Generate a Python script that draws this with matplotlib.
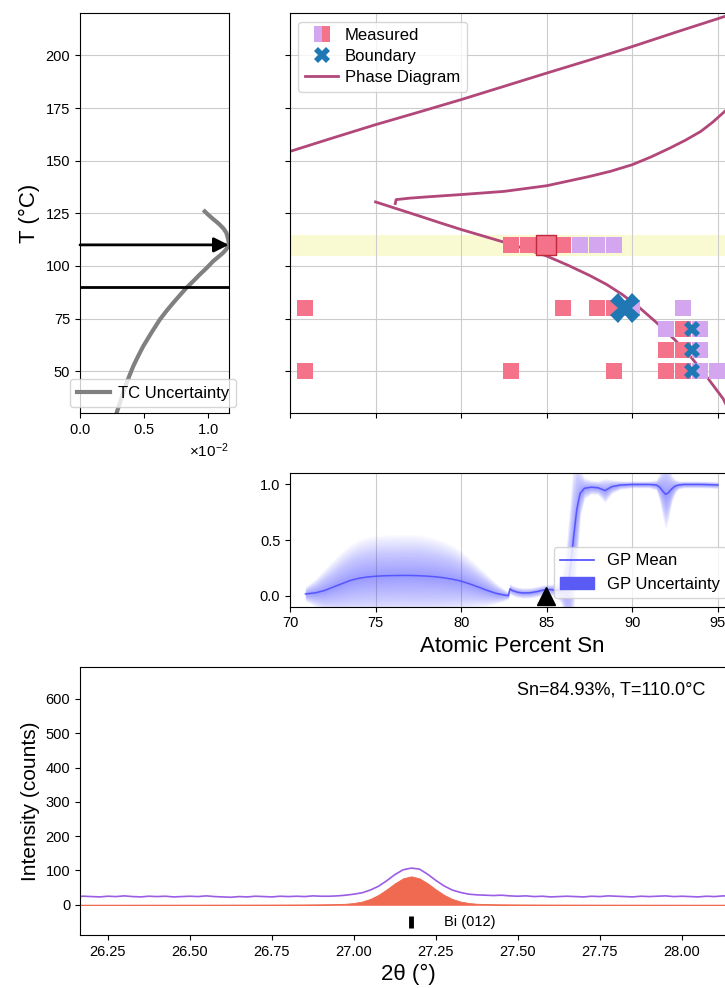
import numpy as np
import matplotlib
matplotlib.use('Agg')
import matplotlib.pyplot as plt
from matplotlib.lines import Line2D
from matplotlib.patches import Patch

plt.rcParams['font.family'] = ['Liberation Sans', 'DejaVu Sans']
plt.rcParams['mathtext.fontset'] = 'custom'
plt.rcParams['mathtext.rm'] = 'Liberation Sans'

# thermocouple uncertainty vs temperature
tc_unc = np.array([0.27, 0.286, 0.325, 0.364, 0.39, 0.416, 0.455, 0.494, 0.56, 0.623,
                   0.675, 0.727, 0.78, 0.831, 0.885, 0.935, 0.99, 1.039, 1.08, 1.117,
                   1.142, 1.156, 1.161, 1.158, 1.143, 1.12, 1.091, 1.065, 1.039, 1.005,
                   0.974]) * 1e-2
tc_temp = [27.0, 30.2, 37.5, 44.5, 48.5, 52.4, 57.3, 61.9, 68.5, 74.5,
           78.6, 82.4, 86.1, 89.6, 92.8, 95.9, 99.1, 102.2, 104.3, 106.2,
           107.9, 109.3, 111.0, 112.5, 115.7, 117.8, 119.6, 121.0, 122.3, 124.1,
           125.9]
t_selected = 110.0
t_lower = 90.0

# measured stripes (phase: 0 = two-phase, 1 = single phase)
meas_comp = [82.9, 83.9, 85.95, 86.95, 87.95, 88.95,
             70.9, 85.95, 87.95, 88.95, 90.0, 92.95,
             91.95, 92.95, 93.95,
             91.95, 92.95, 93.95,
             70.9, 82.9, 88.95, 91.95, 92.95, 93.95, 94.95]
meas_temp = [110, 110, 110, 110, 110, 110,
             80, 80, 80, 80, 80, 80,
             70, 70, 70,
             60, 60, 60,
             50, 50, 50, 50, 50, 50, 50]
meas_phase = [0, 0, 0, 1, 1, 1,
              0, 0, 0, 0, 1, 1,
              1, 0, 1,
              0, 0, 1,
              0, 0, 0, 0, 0, 1, 1]
sel_comp = 84.93

bnd_comp = [89.6, 93.5, 93.5, 93.5]
bnd_temp = [80, 70, 60, 50]

# phase diagram lines
liq_comp = [70.0, 72.5, 75.0, 77.5, 80.0, 82.5, 85.0, 87.5, 90.0, 92.5, 95.4, 96.0]
liq_temp = [154.4, 160.8, 167.1, 173.0, 179.0, 185.3, 191.6, 197.8, 204.2, 210.9, 218.5, 220.3]
sol_comp = [76.15, 76.2, 77.0, 78.0, 80.0, 82.5, 85.0, 87.5, 88.75, 90.0, 91.1,
            92.2, 93.1, 94.0, 94.7, 95.4, 96.0]
sol_temp = [129.6, 131.5, 132.2, 132.8, 133.9, 135.4, 138.1, 142.5, 145.0, 148.1, 151.8,
            156.0, 159.7, 163.9, 168.3, 173.4, 177.8]
bdy_comp = [75.0, 76.3, 77.6, 78.8, 80.0, 81.25, 82.5, 83.75, 85.0, 86.25,
            87.5, 88.5, 89.4, 90.4, 91.4, 92.5, 93.5, 94.4, 95.3, 95.8]
bdy_temp = [130.4, 127.0, 123.6, 120.4, 117.3, 114.3, 111.3, 108.1, 104.7, 100.3,
            95.5, 91.2, 86.5, 80.3, 73.2, 64.8, 56.0, 46.8, 37.0, 29.0]

# GP classifier along composition
gp_comp = [70.9, 71.5, 72.0, 72.5, 73.0, 73.5, 74.0, 74.5, 75.0, 75.5,
           76.0, 76.5, 77.0, 77.5, 78.0, 78.5, 79.0, 79.5, 80.0, 80.5,
           81.0, 81.5, 82.0, 82.4, 82.75, 82.85, 83.0, 83.3, 83.6, 84.0,
           84.4, 84.8, 85.2, 85.6, 85.9, 86.15, 86.35, 86.55, 86.75, 86.95,
           87.2, 87.6, 88.0, 88.4, 88.8, 89.3, 90.0, 90.5, 91.0, 91.4,
           91.6, 91.8, 91.95, 92.1, 92.3, 92.5, 92.7, 93.0, 93.5, 94.0,
           94.5, 95.0]
gp_mean = [0.015, 0.025, 0.045, 0.075, 0.105, 0.135, 0.155, 0.167, 0.174, 0.178,
           0.18, 0.181, 0.181, 0.179, 0.175, 0.169, 0.16, 0.147, 0.13, 0.105,
           0.077, 0.048, 0.022, 0.008, 0.0, 0.06, 0.045, 0.03, 0.024, 0.025,
           0.035, 0.05, 0.055, 0.048, 0.05, 0.08, 0.2, 0.5, 0.77, 0.92,
           0.965, 0.975, 0.97, 0.945, 0.98, 0.995, 1.0, 1.0, 1.0, 0.995,
           0.975, 0.935, 0.91, 0.925, 0.96, 0.985, 0.995, 1.0, 1.0, 1.0,
           0.998, 0.995]
gp_std = [0.02, 0.04, 0.06, 0.075, 0.09, 0.1, 0.108, 0.112, 0.115, 0.115,
          0.115, 0.115, 0.115, 0.115, 0.112, 0.108, 0.102, 0.095, 0.085, 0.072,
          0.058, 0.045, 0.03, 0.02, 0.01, 0.015, 0.015, 0.015, 0.015, 0.015,
          0.015, 0.015, 0.015, 0.02, 0.045, 0.12, 0.2, 0.22, 0.16, 0.07,
          0.03, 0.02, 0.02, 0.035, 0.02, 0.012, 0.01, 0.01, 0.01, 0.015,
          0.04, 0.08, 0.1, 0.08, 0.04, 0.02, 0.012, 0.01, 0.01, 0.01,
          0.01, 0.01]

# XRD pattern at the selected point
two_theta = 26.15 + 0.025 * np.arange(89)
xrd_meas = [24, 25, 24, 23, 25, 24, 26, 24, 23, 25, 24,
            25, 23, 24, 25, 24, 26, 24, 23, 22, 24,
            23, 25, 24, 23, 25, 24, 25, 24, 26, 25,
            25, 26, 28, 31, 35, 43, 54, 70, 88, 102,
            107,
            104, 89, 71, 55, 43, 36, 31, 29, 28, 27,
            28, 26, 25, 26, 24, 25, 23, 24, 25, 24,
            23, 25, 24, 26, 25, 24, 23, 25, 24, 25,
            26, 24, 25, 24, 23, 25, 24, 26, 25, 24,
            25, 23, 24, 25, 26, 24, 25]
xrd_fit = [0.10, 0.11, 0.11, 0.12, 0.12, 0.13, 0.14, 0.14, 0.15, 0.16, 0.17,
           0.18, 0.19, 0.21, 0.23, 0.25, 0.27, 0.29, 0.31, 0.34, 0.38,
           0.42, 0.46, 0.51, 0.57, 0.63, 0.72, 0.83, 0.95, 1.1, 1.3,
           1.6, 2.1, 3.1, 5.3, 9.5, 17.1, 29.0, 44.9, 62.6, 77.2,
           83.0,
           77.2, 62.6, 44.9, 29.0, 17.1, 9.5, 5.3, 3.1, 2.1, 1.6,
           1.3, 1.1, 0.95, 0.83, 0.72, 0.63, 0.57, 0.51, 0.46, 0.42,
           0.38, 0.34, 0.31, 0.29, 0.27, 0.25, 0.23, 0.21, 0.19, 0.18,
           0.17, 0.16, 0.15, 0.14, 0.14, 0.13, 0.12, 0.12, 0.11, 0.11,
           0.10, 0.10, 0.09, 0.09, 0.09, 0.08, 0.08]
peak_pos = 27.175
peak_label = 'Bi (012)'

red = '#f4738a'
purple = '#d4a6f0'
blue = '#1f77b4'
pd_col = '#b2477a'
gp_col = '#4a4aff'

W, H = 725.0, 988.0
fig = plt.figure(figsize=(W / 100, H / 100), dpi=100)
ax_tc = fig.add_axes([80 / W, 1 - 413.3 / H, 148.7 / W, 400 / H])
ax_pd = fig.add_axes([290 / W, 1 - 413.3 / H, 445 / W, 400 / H], sharey=ax_tc)
ax_gp = fig.add_axes([290 / W, 1 - 606.7 / H, 445 / W, 133.4 / H], sharex=ax_pd)
ax_xrd = fig.add_axes([80 / W, 1 - 935 / H, 656 / W, 268 / H])

# --- thermocouple panel
ax_tc.plot(tc_unc, tc_temp, color='gray', lw=3, label='TC Uncertainty')
xmax = tc_unc.max()
ax_tc.annotate('', xy=(xmax, t_selected), xytext=(0, t_selected),
               arrowprops=dict(arrowstyle='-|>', color='k', lw=2, mutation_scale=22,
                               shrinkA=0, shrinkB=0))
ax_tc.plot([0, xmax], [t_lower, t_lower], color='k', lw=2)
ax_tc.set_xlim(0, xmax)
ax_tc.set_ylim(30, 220)
ax_tc.set_yticks([50, 75, 100, 125, 150, 175, 200])
ax_tc.grid(axis='y', color='#cccccc')
ax_tc.set_axisbelow(True)
ax_tc.ticklabel_format(axis='x', style='sci', scilimits=(-2, -2), useMathText=True)
ax_tc.set_ylabel('T (°C)', fontsize=16)
ax_tc.tick_params(labelsize=10.5)
ax_tc.xaxis.get_offset_text().set_fontsize(11)
ax_tc.legend(loc='lower left', bbox_to_anchor=(-0.067, 0.015), borderaxespad=0,
             fontsize=12, handlelength=2.0, handletextpad=0.5)

# --- phase diagram panel
ax_pd.axhspan(104.5, 114.7, color='#fafad2', zorder=0.3, lw=0)
ax_pd.grid(color='#cccccc')
ax_pd.set_axisbelow(True)
for c, t in [(liq_comp, liq_temp), (sol_comp, sol_temp), (bdy_comp, bdy_temp)]:
    ax_pd.plot(c, t, color=pd_col, lw=2, zorder=2)
mc = np.array(meas_comp)
mt = np.array(meas_temp)
mp = np.array(meas_phase)
ax_pd.plot(mc[mp == 0], mt[mp == 0], 's', ms=11, color=red, mew=0, zorder=3)
ax_pd.plot(mc[mp == 1], mt[mp == 1], 's', ms=11, color=purple, mew=0, zorder=3)
ax_pd.plot([sel_comp], [t_selected], 's', ms=14, mfc=red, mec='#c0283c', mew=1, zorder=4)
ax_pd.plot(bnd_comp[:1], bnd_temp[:1], 'X', ms=21, color=blue, mew=0, zorder=5)
ax_pd.plot(bnd_comp[1:], bnd_temp[1:], 'X', ms=12, color=blue, mew=0, zorder=5)
ax_pd.tick_params(labelbottom=False, labelleft=False)
h_meas = Line2D([], [], ls='', marker='s', ms=11, mfc=purple, mfcalt=red,
                fillstyle='left', mew=0)
h_bnd = Line2D([], [], ls='', marker='X', ms=12, color=blue, mew=0)
h_pd = Line2D([], [], color=pd_col, lw=2)
ax_pd.legend([h_meas, h_bnd, h_pd], ['Measured', 'Boundary', 'Phase Diagram'],
             loc='upper left', fontsize=12, handletextpad=0.4, labelspacing=0.35)

# --- GP panel: stacked translucent bands give a soft uncertainty gradient
gm = np.array(gp_mean)
gs = np.array(gp_std)
for k in np.linspace(0.1, 3.2, 28):
    ax_gp.fill_between(gp_comp, gm - k * gs, gm + k * gs, color=gp_col, alpha=0.025, lw=0)
ax_gp.plot(gp_comp, gm, color=gp_col, lw=1.1, alpha=0.85)
ax_gp.plot([sel_comp], [0], '^', ms=13, color='k', zorder=6, clip_on=False)
ax_gp.set_xlim(70, 96)
ax_gp.set_ylim(-0.1, 1.1)
ax_gp.set_xticks([70, 75, 80, 85, 90, 95])
ax_gp.set_yticks([0.0, 0.5, 1.0])
ax_gp.grid(axis='x', color='#cccccc')
ax_gp.set_axisbelow(True)
ax_gp.tick_params(labelsize=10.5)
ax_gp.set_xlabel('Atomic Percent Sn', fontsize=16)
ax_gp.legend([Line2D([], [], color=gp_col, lw=1.2), Patch(color='#5a5af5')],
             ['GP Mean', 'GP Uncertainty'], loc='lower right', fontsize=12)

# --- XRD panel
ax_xrd.fill_between(two_theta, 0, xrd_fit, color='#ef6a50', lw=0.6)
ax_xrd.plot(two_theta, xrd_meas, color='#9b5de5', lw=1.2)
ax_xrd.plot([peak_pos, peak_pos], [-33, -68], color='k', lw=3.5, solid_capstyle='butt')
ax_xrd.text(peak_pos + 0.1, -50, peak_label, fontsize=10.5, va='center')
ax_xrd.set_xlim(peak_pos - 1.01, peak_pos + 0.99)
ax_xrd.set_ylim(-88, 693)
ax_xrd.set_xticks([26.25, 26.5, 26.75, 27.0, 27.25, 27.5, 27.75, 28.0])
ax_xrd.set_xticklabels(['%.2f' % v for v in ax_xrd.get_xticks()])
ax_xrd.set_yticks([0, 100, 200, 300, 400, 500, 600])
ax_xrd.tick_params(labelsize=10.5)
ax_xrd.set_xlabel('2θ (°)', fontsize=16)
ax_xrd.set_ylabel('Intensity (counts)', fontsize=15)
ax_xrd.text(0.953, 0.945, 'Sn=%.2f%%, T=%.1f°C' % (sel_comp, t_selected),
            transform=ax_xrd.transAxes, ha='right', va='top', fontsize=13)

fig.savefig('out.png', dpi=100)
